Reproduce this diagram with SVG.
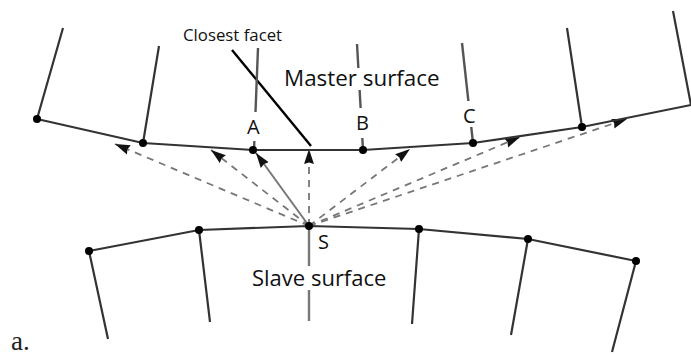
<svg xmlns="http://www.w3.org/2000/svg" width="691" height="356" viewBox="0 0 691 356">
<style>
.s{fill:none;stroke:#333;stroke-width:2.2}
.m{fill:none;stroke:#555;stroke-width:2.4}
.d{fill:none;stroke:#777;stroke-width:1.8;stroke-dasharray:7 6}
.n{fill:#000}
.t{font-family:"Open Sans","Noto Sans",sans-serif;fill:#111}
</style>
<defs>
<marker id="ah" viewBox="0 0 10 10" refX="10" refY="5" markerWidth="15" markerHeight="11" markerUnits="userSpaceOnUse" orient="auto" preserveAspectRatio="none"><path d="M0 0.5L10 5L0 9.5L1 5Z" fill="#111"/></marker>
</defs>
<rect width="691" height="356" fill="#fff"/>
<g id="connectors">
<path class="d" d="M309 226L115 144" marker-end="url(#ah)"/>
<path class="d" d="M309 226L211 150" marker-end="url(#ah)"/>
<path d="M309 226L256 153" fill="none" stroke="#777" stroke-width="2" marker-end="url(#ah)"/>
<path class="d" d="M309 226L309 149" marker-end="url(#ah)"/>
<path class="d" d="M309 226L410 149" marker-end="url(#ah)"/>
<path class="d" d="M309 226L520 137" marker-end="url(#ah)"/>
<path class="d" d="M309 226L627 119" marker-end="url(#ah)"/>
<path d="M232 50L311 146" fill="none" stroke="#000" stroke-width="2.4"/>
</g>
<g id="master-surface">
<path class="s" d="M37 119L143 143L253 150L363 150L473 143L582 127L691 105"/>
<path class="s" d="M37 119L63 28M143 143L159 46M582 127L567 28M691 105L673 11"/>
<path class="m" d="M254 150L258 48M363 150L357 44M473 143L462 43"/>
<circle class="n" cx="37" cy="119" r="4"/><circle class="n" cx="143" cy="143" r="4"/><circle class="n" cx="253" cy="150" r="4"/><circle class="n" cx="363" cy="150" r="4"/><circle class="n" cx="473" cy="143" r="4"/><circle class="n" cx="582" cy="127" r="4"/>
</g>
<g id="slave-surface">
<path class="s" d="M89 251L199 230L309 226L419 229L528 239L636 261"/>
<path class="s" d="M89 251L108 339M199 230L210 322M419 229L412 324M528 239L511 335M636 261L612 352"/>
<path class="m" style="stroke:#777" d="M309 226V321"/>
<circle class="n" cx="89" cy="251" r="4"/><circle class="n" cx="199" cy="230" r="4"/><circle class="n" cx="309" cy="226" r="4"/><circle class="n" cx="419" cy="229" r="4"/><circle class="n" cx="528" cy="239" r="4"/><circle class="n" cx="636" cy="261" r="4"/>
</g>
<g id="labels">
<rect x="237" y="112" width="36" height="29" fill="#fff"/>
<rect x="344" y="108" width="38" height="30" fill="#fff"/>
<rect x="451" y="101" width="40" height="26" fill="#fff"/>
<rect x="283" y="68" width="156" height="22" fill="#fff"/>
<rect x="250" y="266" width="136" height="24" fill="#fff"/>
<text class="t" x="183" y="41" font-size="16.8">Closest facet</text>
<text class="t" x="284" y="86" font-size="22.4">Master surface</text>
<text class="t" x="247" y="134" font-size="20">A</text>
<text class="t" x="356" y="130" font-size="20">B</text>
<text class="t" x="463" y="123" font-size="20">C</text>
<text class="t" x="318" y="249" font-size="20">S</text>
<text class="t" x="252" y="286" font-size="22">Slave surface</text>
<text x="11" y="350" font-size="27" font-family="'Liberation Serif',serif" fill="#222">a.</text>
</g>
</svg>
